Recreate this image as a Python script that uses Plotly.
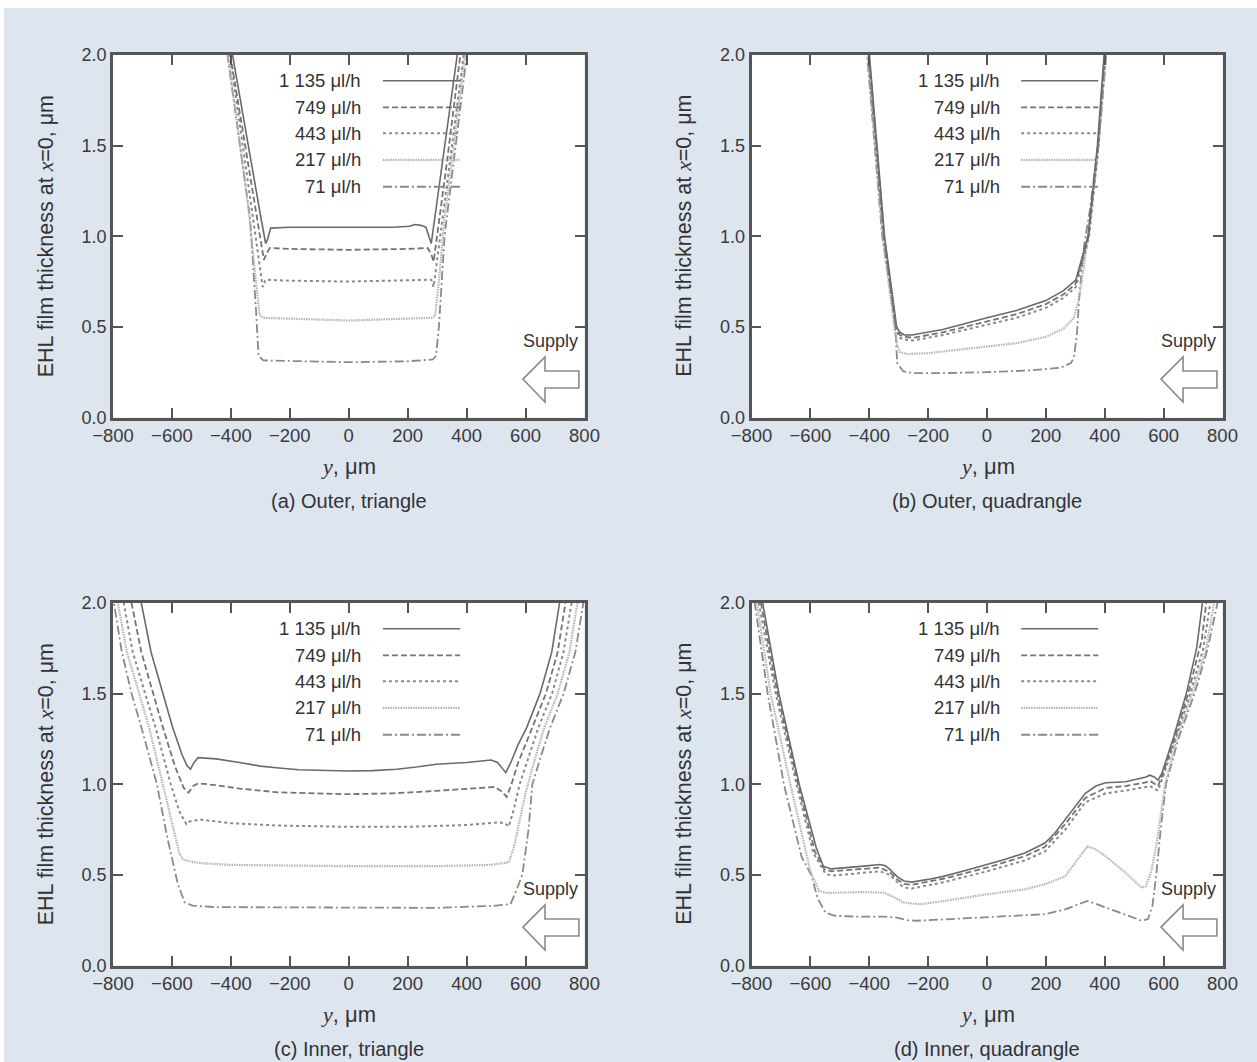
import plotly.graph_objects as go

W, H = 1257, 1062

SERIES = ["1 135 μl/h", "749 μl/h", "443 μl/h", "217 μl/h", "71 μl/h"]
X_TICKS = [-800, -600, -400, -200, 0, 200, 400, 600, 800]
Y_TICKS = [0.0, 0.5, 1.0, 1.5, 2.0]
CAPTIONS = ["(a) Outer, triangle", "(b) Outer, quadrangle", "(c) Inner, triangle", "(d) Inner, quadrangle"]

A_1135_Y = [-405, -384, -340, -300, -282, -276, -265, -200, 0, 150, 205, 225, 245, 262, 280, 300, 340, 380]
A_1135_H = [2.1, 1.9, 1.49, 1.12, 0.96, 0.98, 1.045, 1.05, 1.05, 1.05, 1.055, 1.065, 1.06, 1.05, 0.96, 1.2, 1.67, 2.14]
A_749_Y = [-412, -345, -300, -288, -280, -268, -200, 0, 200, 268, 280, 288, 330, 388]
A_749_H = [2.1, 1.43, 0.99, 0.87, 0.9, 0.935, 0.93, 0.925, 0.93, 0.935, 0.9, 0.86, 1.37, 2.12]
A_443_Y = [-415, -350, -300, -292, -282, -200, 0, 200, 280, 288, 340, 398]
A_443_H = [2.14, 1.4, 0.81, 0.72, 0.76, 0.755, 0.75, 0.755, 0.76, 0.72, 1.37, 2.1]
A_217_Y = [-418, -340, -315, -303, -290, 0, 280, 293, 306, 325, 402]
A_217_H = [2.1, 1.15, 0.75, 0.57, 0.55, 0.535, 0.55, 0.56, 0.75, 1.1, 2.1]
A_71_Y = [-420, -335, -315, -306, -290, 0, 200, 285, 296, 306, 325, 408]
A_71_H = [2.1, 1.1, 0.6, 0.34, 0.315, 0.305, 0.31, 0.32, 0.34, 0.5, 1.0, 2.1]

B_1135_Y = [-402, -375, -348, -307, -296, -280, -255, -150, -50, 0, 100, 200, 260, 302, 343, 375, 400]
B_1135_H = [2.05, 1.5, 1.0, 0.5, 0.47, 0.455, 0.455, 0.485, 0.53, 0.55, 0.59, 0.645, 0.70, 0.76, 1.0, 1.5, 2.05]
B_749_Y = [-404, -377, -350, -309, -296, -280, -250, -150, 0, 100, 200, 260, 300, 345, 377, 402]
B_749_H = [2.05, 1.5, 1.0, 0.5, 0.455, 0.445, 0.44, 0.47, 0.53, 0.57, 0.625, 0.68, 0.735, 1.0, 1.5, 2.05]
B_443_Y = [-406, -379, -352, -311, -298, -280, -250, -150, 0, 100, 200, 260, 302, 347, 379, 404]
B_443_H = [2.05, 1.5, 1.0, 0.5, 0.44, 0.43, 0.425, 0.455, 0.51, 0.55, 0.605, 0.66, 0.72, 1.0, 1.5, 2.05]
B_217_Y = [-408, -380, -354, -315, -305, -295, -270, -200, 0, 100, 200, 260, 295, 312, 328, 348, 379, 406]
B_217_H = [2.05, 1.5, 1.0, 0.5, 0.4, 0.36, 0.35, 0.355, 0.39, 0.41, 0.445, 0.49, 0.55, 0.65, 0.82, 1.05, 1.5, 2.05]
B_71_Y = [-410, -382, -356, -318, -310, -305, -285, -250, -150, 0, 150, 250, 285, 295, 305, 315, 330, 350, 381, 408]
B_71_H = [2.05, 1.5, 1.0, 0.6, 0.45, 0.3, 0.255, 0.245, 0.245, 0.25, 0.26, 0.275, 0.3, 0.33, 0.45, 0.7, 0.95, 1.15, 1.55, 2.05]

C_1135_Y = [-715, -704, -671, -631, -597, -565, -548, -537, -525, -511, -450, -371, -300, -237, -170, -104, 0, 80, 163, 230, 296, 400, 483, 505, 533, 550, 575, 603, 649, 689, 716, 725]
C_1135_H = [2.1, 2.0, 1.73, 1.5, 1.31, 1.16, 1.1, 1.083, 1.12, 1.147, 1.14, 1.12, 1.10, 1.09, 1.08, 1.077, 1.073, 1.075, 1.083, 1.095, 1.11, 1.12, 1.134, 1.12, 1.064, 1.12, 1.22, 1.31, 1.5, 1.73, 2.0, 2.1]
C_749_Y = [-748, -737, -704, -664, -630, -590, -560, -544, -528, -511, -450, -371, -237, 0, 150, 263, 400, 496, 520, 536, 552, 575, 600, 623, 669, 709, 736, 745]
C_749_H = [2.1, 2.0, 1.73, 1.5, 1.31, 1.1, 0.98, 0.954, 0.99, 1.005, 0.995, 0.976, 0.955, 0.945, 0.95, 0.96, 0.975, 0.985, 0.96, 0.93, 1.0, 1.12, 1.22, 1.31, 1.5, 1.73, 2.0, 2.1]
C_443_Y = [-775, -764, -733, -691, -655, -604, -575, -551, -540, -504, -400, -237, 0, 200, 400, 509, 530, 543, 560, 580, 610, 643, 690, 729, 756, 765]
C_443_H = [2.1, 2.0, 1.73, 1.5, 1.31, 1.0, 0.85, 0.78, 0.795, 0.805, 0.785, 0.772, 0.765, 0.765, 0.775, 0.79, 0.785, 0.767, 0.86, 1.0, 1.15, 1.31, 1.5, 1.73, 2.0, 2.1]
C_217_Y = [-795, -784, -753, -711, -677, -631, -600, -575, -564, -540, -504, -400, 0, 300, 480, 530, 543, 560, 580, 600, 630, 663, 709, 749, 776, 785]
C_217_H = [2.1, 2.0, 1.73, 1.5, 1.31, 1.0, 0.78, 0.62, 0.587, 0.575, 0.565, 0.555, 0.548, 0.548, 0.555, 0.565, 0.569, 0.65, 0.8, 0.95, 1.13, 1.31, 1.5, 1.73, 2.0, 2.1]
C_71_Y = [-805, -797, -770, -737, -703, -651, -615, -580, -557, -530, -450, 0, 300, 500, 549, 570, 589, 610, 623, 655, 683, 729, 769, 796, 800]
C_71_H = [2.06, 2.0, 1.73, 1.5, 1.31, 1.0, 0.7, 0.45, 0.349, 0.33, 0.322, 0.318, 0.318, 0.33, 0.339, 0.42, 0.5, 0.75, 1.0, 1.17, 1.31, 1.5, 1.73, 2.0, 2.06]

D_1135_Y = [-770, -762, -707, -638, -580, -556, -529, -470, -419, -364, -345, -330, -305, -282, -255, -200, -145, -70, 0, 60, 129, 197, 230, 266, 300, 334, 370, 403, 471, 520, 540, 553, 568, 581, 594, 632, 677, 712, 731, 740]
D_1135_H = [2.1, 2.0, 1.5, 1.0, 0.65, 0.548, 0.533, 0.54, 0.548, 0.557, 0.55, 0.53, 0.49, 0.466, 0.46, 0.475, 0.493, 0.525, 0.557, 0.585, 0.621, 0.676, 0.73, 0.804, 0.88, 0.95, 0.99, 1.008, 1.014, 1.03, 1.04, 1.05, 1.04, 1.023, 1.06, 1.25, 1.5, 1.75, 2.0, 2.1]
D_749_Y = [-776, -768, -712, -642, -585, -552, -529, -419, -364, -330, -305, -282, -255, -145, 0, 129, 197, 266, 334, 403, 471, 540, 553, 581, 598, 637, 683, 730, 745, 752]
D_749_H = [2.1, 2.0, 1.5, 1.0, 0.63, 0.53, 0.52, 0.535, 0.54, 0.515, 0.475, 0.45, 0.445, 0.48, 0.54, 0.603, 0.655, 0.78, 0.925, 0.98, 0.99, 1.01, 1.02, 0.99, 1.06, 1.25, 1.5, 1.8, 2.0, 2.1]
D_443_Y = [-782, -775, -718, -647, -590, -550, -529, -419, -364, -330, -305, -282, -255, -145, 0, 129, 197, 266, 334, 403, 471, 540, 553, 581, 600, 640, 690, 735, 760, 768]
D_443_H = [2.1, 2.0, 1.5, 1.0, 0.62, 0.51, 0.495, 0.51, 0.52, 0.5, 0.46, 0.43, 0.425, 0.46, 0.52, 0.58, 0.63, 0.75, 0.9, 0.95, 0.965, 0.985, 0.99, 0.965, 1.05, 1.25, 1.5, 1.75, 2.0, 2.1]
D_217_Y = [-790, -782, -735, -668, -600, -570, -545, -419, -351, -320, -282, -227, -145, 0, 129, 200, 266, 300, 341, 370, 403, 471, 526, 540, 558, 575, 592, 605, 645, 697, 745, 774, 782]
D_217_H = [2.1, 2.0, 1.5, 1.0, 0.52, 0.411, 0.40, 0.405, 0.402, 0.38, 0.347, 0.338, 0.356, 0.393, 0.42, 0.45, 0.493, 0.57, 0.657, 0.64, 0.603, 0.511, 0.429, 0.438, 0.52, 0.66, 0.85, 1.0, 1.25, 1.5, 1.75, 2.0, 2.1]
D_71_Y = [-797, -789, -745, -690, -630, -597, -575, -549, -520, -450, -350, -310, -270, -241, -200, -100, 0, 100, 197, 266, 341, 370, 403, 471, 526, 547, 562, 575, 590, 608, 650, 705, 750, 783, 790]
D_71_H = [2.1, 2.0, 1.5, 1.0, 0.6, 0.5, 0.37, 0.292, 0.275, 0.27, 0.27, 0.265, 0.25, 0.247, 0.25, 0.258, 0.265, 0.272, 0.283, 0.31, 0.356, 0.34, 0.32, 0.28, 0.247, 0.256, 0.33, 0.5, 0.75, 1.0, 1.25, 1.5, 1.75, 2.0, 2.05]

PANEL_DATA = [
    [(A_1135_Y, A_1135_H), (A_749_Y, A_749_H), (A_443_Y, A_443_H), (A_217_Y, A_217_H), (A_71_Y, A_71_H)],
    [(B_1135_Y, B_1135_H), (B_749_Y, B_749_H), (B_443_Y, B_443_H), (B_217_Y, B_217_H), (B_71_Y, B_71_H)],
    [(C_1135_Y, C_1135_H), (C_749_Y, C_749_H), (C_443_Y, C_443_H), (C_217_Y, C_217_H), (C_71_Y, C_71_H)],
    [(D_1135_Y, D_1135_H), (D_749_Y, D_749_H), (D_443_Y, D_443_H), (D_217_Y, D_217_H), (D_71_Y, D_71_H)],
]

LINE_STYLES = [
    dict(color="#6a6a6a", width=1.6, dash="solid"),
    dict(color="#747474", width=1.8, dash="6px,3px"),
    dict(color="#8a8a8a", width=2.0, dash="3px,3px"),
    dict(color="#b4b4b4", width=2.2, dash="1.5px,1px"),
    dict(color="#8a8a8a", width=1.8, dash="9px,3px,2px,3px"),
]
BG = "#dde5ef"
FRAME = "#555555"
FONT = "Liberation Sans"

BOXES = [(113, 584.5, 55, 417.5), (751.5, 1222.5, 55, 417.5),
         (113, 584.5, 603, 965.5), (751.5, 1222.5, 603, 965.5)]


def px(x):
    return x / W


def py(y):
    return 1 - y / H


fig = go.Figure()
layout = dict(
    width=W, height=H, margin=dict(l=0, r=0, t=0, b=0, pad=0, autoexpand=False), autosize=False,
    paper_bgcolor=BG, plot_bgcolor="white", showlegend=False,
    font=dict(family=FONT, color="#333333"),
)
annotations = []
shapes = [
    dict(type="rect", xref="paper", yref="paper", x0=0, x1=px(4), y0=0, y1=1,
         fillcolor="white", line=dict(width=0), layer="below"),
    dict(type="rect", xref="paper", yref="paper", x0=0, x1=1, y0=py(8), y1=1,
         fillcolor="white", line=dict(width=0), layer="below"),
]

LEG_ROWS = [1.858, 1.711, 1.568, 1.421, 1.273]
LEG_TEXT_X = 50
LEG_LINE_X = (116, 378)

for i, (box, series) in enumerate(zip(BOXES, PANEL_DATA)):
    n = "" if i == 0 else str(i + 1)
    xa, ya = "x" + n, "y" + n
    l, r, t, b = box
    layout["xaxis" + n] = dict(
        domain=[px(l), px(r)], anchor=ya, range=[-800, 800], tickvals=X_TICKS, automargin=False,
        showline=True, linecolor=FRAME, linewidth=2.5, mirror="allticks",
        ticks="inside", ticklen=10, tickwidth=2, tickcolor=FRAME,
        showgrid=False, zeroline=False,
        tickfont=dict(family=FONT, size=18.5, color="#3a3a3a"))
    layout["yaxis" + n] = dict(
        domain=[py(b), py(t)], anchor=xa, range=[0, 2], tickvals=Y_TICKS, tickformat=".1f",
        automargin=False,
        showline=True, linecolor=FRAME, linewidth=2.5, mirror="allticks",
        ticks="inside", ticklen=10, tickwidth=2, tickcolor=FRAME,
        showgrid=False, zeroline=False,
        tickfont=dict(family=FONT, size=18, color="#3a3a3a"))

    for k in range(len(series) - 1, -1, -1):
        ys, hs = series[k]
        fig.add_trace(go.Scatter(x=ys, y=hs, mode="lines", xaxis=xa, yaxis=ya,
                                 line=LINE_STYLES[k], hoverinfo="skip"))

    for k, name in enumerate(SERIES):
        annotations.append(dict(xref=xa, yref=ya, x=LEG_TEXT_X, y=LEG_ROWS[k], text=name,
                                showarrow=False, xanchor="right", yanchor="middle",
                                font=dict(family=FONT, size=18.5, color="#333333")))
        shapes.append(dict(type="line", xref=xa, yref=ya, x0=LEG_LINE_X[0], x1=LEG_LINE_X[1],
                           y0=LEG_ROWS[k], y1=LEG_ROWS[k], line=LINE_STYLES[k]))

    annotations.append(dict(xref=xa, yref=ya, x=683, y=0.422, text="Supply", showarrow=False,
                            xanchor="center", yanchor="middle",
                            font=dict(family=FONT, size=18, color="#333333")))
    shapes.append(dict(type="path", xref=xa, yref=ya,
                       path="M 781,0.2566 L 666,0.2566 L 666,0.334 L 591,0.212 L 666,0.0855 "
                            "L 666,0.1628 L 781,0.1628 Z",
                       line=dict(color="#8a8a8a", width=1.6), fillcolor="white"))

    cx = (l + r) / 2
    cy = (t + b) / 2
    annotations.append(dict(xref="paper", yref="paper", x=px(l - 67), y=py(cy),
                            text="EHL film thickness at <span style='font-family:Liberation Serif'><i>x</i></span>=0, μm",
                            textangle=-90, showarrow=False, xanchor="center", yanchor="middle",
                            font=dict(family=FONT, size=21.5, color="#333333")))
    annotations.append(dict(xref="paper", yref="paper", x=px(cx), y=py(b + 49),
                            text="<span style='font-family:Liberation Serif'><i>y</i></span>, μm",
                            showarrow=False, xanchor="center", yanchor="middle",
                            font=dict(family=FONT, size=22, color="#333333")))
    annotations.append(dict(xref="paper", yref="paper", x=px(cx), y=py(b + 83),
                            text=CAPTIONS[i], showarrow=False, xanchor="center", yanchor="middle",
                            font=dict(family=FONT, size=20, color="#333333")))

layout["annotations"] = annotations
layout["shapes"] = shapes
fig.update_layout(**layout)
fig.write_html("out.html")
